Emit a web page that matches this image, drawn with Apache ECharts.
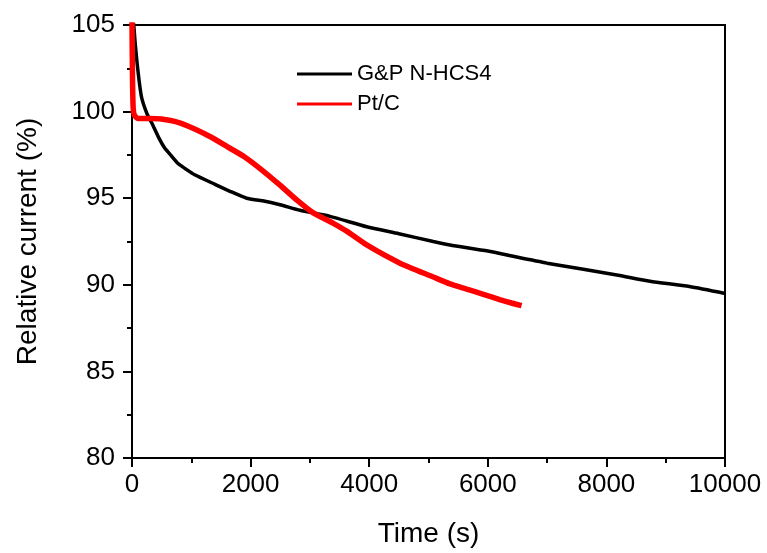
<!DOCTYPE html>
<html lang="en">
<head>
    <meta charset="UTF-8">
    <title></title>
    <script src="https://cdn.jsdelivr.net/npm/echarts@6/dist/echarts.min.js"></script>
    <style>
        body { margin: 0; background: #fff; }
    </style>
</head>
<body>
<div id="box1" style="width: 767px;height: 553px"></div>
<script>
    // G&P N-HCS4 (black)
    var timeA = [0, 30, 80, 157, 250, 354, 450, 551, 650, 776, 900, 1057, 1400, 1652, 1934, 2200, 2496, 2833, 3339, 3958, 4500, 5081, 5363, 6000, 6487, 7000, 7611, 8200, 8735, 9400, 10000];
    var valA = [107, 105, 103, 100.9, 99.9, 99.2, 98.5, 97.9, 97.5, 97.0, 96.7, 96.35, 95.8, 95.4, 95.0, 94.85, 94.62, 94.3, 93.95, 93.35, 92.95, 92.5, 92.3, 91.95, 91.6, 91.25, 90.9, 90.55, 90.2, 89.9, 89.5];
    // Pt/C (red)
    var timeB = [0, 8, 20, 40, 101, 300, 495, 776, 1057, 1338, 1619, 1900, 2181, 2496, 2777, 3057, 3395, 3620, 3958, 4520, 5081, 5363, 5644, 5925, 6200, 6400, 6570];
    var valB = [105.2, 102, 100.2, 99.8, 99.6, 99.6, 99.57, 99.38, 99.0, 98.52, 97.95, 97.38, 96.65, 95.75, 94.9, 94.15, 93.55, 93.1, 92.3, 91.25, 90.45, 90.05, 89.75, 89.45, 89.15, 88.95, 88.8];
    var names = ['G&P N-HCS4', 'Pt/C'];

    function pairs(xs, ys) {
        var out = [];
        for (var i = 0; i < xs.length; i++) out.push([xs[i], ys[i]]);
        return out;
    }

    var font = 'Liberation Sans, Arial, sans-serif';
    var mychar = echarts.init(document.getElementById("box1"));
    var option = {
        animation: false,
        grid: {
            left: 132, right: 42, top: 25, bottom: 91,
            show: true, borderColor: '#000', borderWidth: 2
        },
        legend: {
            orient: 'vertical',
            left: 297, top: 61, padding: 0,
            itemWidth: 55, itemHeight: 3, itemGap: 4,
            icon: 'rect',
            textStyle: {fontFamily: font, fontSize: 22, color: '#000', lineHeight: 26},
            data: names
        },
        xAxis: {
            type: 'value', min: 0, max: 10000, interval: 2000,
            name: 'Time (s)', nameLocation: 'middle', nameGap: 62,
            nameTextStyle: {fontFamily: font, fontSize: 28, color: '#000'},
            axisLine: {lineStyle: {color: '#000', width: 2}},
            axisTick: {inside: false, length: 9, lineStyle: {color: '#000', width: 2}},
            minorTick: {show: true, splitNumber: 2, length: 5, lineStyle: {color: '#000', width: 2}},
            axisLabel: {fontFamily: font, fontSize: 26, color: '#000', margin: 14,
                formatter: function (v) { return String(v); }},
            splitLine: {show: false}
        },
        yAxis: {
            type: 'value', min: 80, max: 105, interval: 5,
            name: 'Relative current (%)', nameLocation: 'middle', nameGap: 90,
            nameTextStyle: {fontFamily: font, fontSize: 28, color: '#000'},
            axisLine: {show: true, lineStyle: {color: '#000', width: 2}},
            axisTick: {show: true, inside: false, length: 9, lineStyle: {color: '#000', width: 2}},
            minorTick: {show: true, splitNumber: 2, length: 5, lineStyle: {color: '#000', width: 2}},
            axisLabel: {fontFamily: font, fontSize: 26, color: '#000', margin: 17},
            splitLine: {show: false}
        },
        series: [{
            name: names[0],
            type: 'line',
            data: pairs(timeA, valA),
            showSymbol: false, smooth: 0.2, clip: true,
            color: '#000',
            lineStyle: {color: '#000', width: 3.5}
        }, {
            name: names[1],
            type: 'line',
            data: pairs(timeB, valB),
            showSymbol: false, smooth: 0.2, clip: true,
            color: '#ff0000',
            lineStyle: {color: '#ff0000', width: 5.5}
        }]
    };
    mychar.setOption(option);
</script>
</body>
</html>
